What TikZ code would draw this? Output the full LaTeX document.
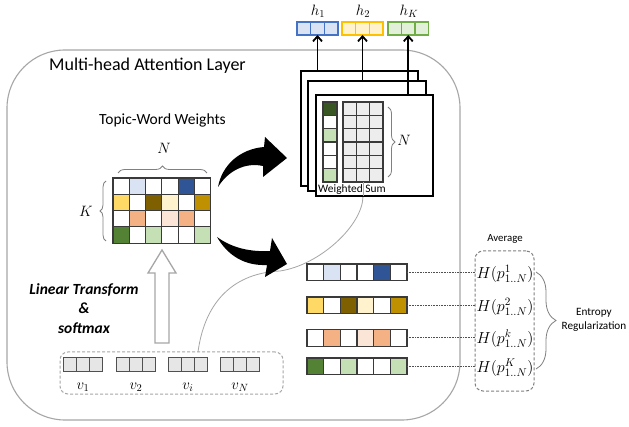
\RequirePackage{fix-cm}
\documentclass[tikz,border=0pt]{standalone}
\usepackage{fontspec}
\setmainfont{Carlito}
\usetikzlibrary{arrows.meta,decorations.pathreplacing,calc}

\definecolor{lb}{HTML}{DAE3F3}
\definecolor{db}{HTML}{2F5597}
\definecolor{yl}{HTML}{FFD966}
\definecolor{brn}{HTML}{7F6000}
\definecolor{cr}{HTML}{FFF2CC}
\definecolor{gd}{HTML}{BF9000}
\definecolor{orng}{HTML}{F4B183}
\definecolor{pc}{HTML}{FBE5D6}
\definecolor{dg}{HTML}{548235}
\definecolor{lg}{HTML}{C5E0B4}
\definecolor{wdg}{HTML}{385723}
\definecolor{gfill}{HTML}{EDEDED}
\definecolor{vfill}{HTML}{E7E6E6}
\definecolor{cellline}{HTML}{3A3A3A}
\definecolor{vline}{HTML}{505050}
\definecolor{frame}{HTML}{A6A6A6}
\definecolor{bracec}{HTML}{808080}
\definecolor{hbb}{HTML}{4472C4}
\definecolor{hyb}{HTML}{FFC000}
\definecolor{hgb}{HTML}{70AD47}
\definecolor{hgf}{HTML}{E2F0D9}

\newcommand\cellrow[6]{%
  \foreach \cc [count=\ii from 0] in {#5}{\draw[#6,fill=\cc] ({#1+\ii*#3},{#2}) rectangle ++(#3,#4);}}

\begin{document}
\begin{tikzpicture}[x=1pt,y=-1pt,
  every node/.style={inner sep=0pt,outer sep=0pt},
  box/.style={anchor=north west,inner sep=0pt,outer sep=0pt},
  cellb/.style={draw=cellline,line width=1.1pt},
  vcell/.style={draw=vline,line width=1pt,fill=vfill},
  wsbox/.style={box,draw=black,fill=white,line width=1.1pt},
  brc/.style={draw=bracec,line width=0.8pt,decorate,decoration={brace,amplitude=#1}},
  uparr/.style={line width=1.8pt,-{Straight Barb[length=5pt,width=9pt]}},
  dotline/.style={draw=vline,line width=0.7pt,dash pattern=on 0.8pt off 0.8pt},
  dbox/.style={box,draw=frame,line width=1pt,dash pattern=on 3pt off 2pt,rounded corners=8pt},
  f18/.style={font=\fontsize{18}{21}\selectfont},
  f15/.style={font=\fontsize{15.5}{19.5}\selectfont},
  f11/.style={font=\fontsize{11.2}{14}\selectfont},
  mth/.style={font=\fontsize{15}{18}\selectfont},
]
\useasboundingbox[fill=white] (0,0) rectangle (629,427);

% outer layer
\node[box,draw=frame,line width=1.1pt,rounded corners=58pt,minimum width=453pt,minimum height=370pt] (layer) at (7,50) {};
\node[f18] (title) at (147.5,66) {Multi-head Attention Layer};

% topic-word matrix
\node[f15] (twtitle) at (162.5,120) {Topic-Word Weights};
\node[box,minimum width=97.8pt,minimum height=65.2pt] (topic) at (113,178) {};
\cellrow{113}{178}{16.3}{16.3}{white,lb,white,white,db,white}{cellb}
\cellrow{113}{194.3}{16.3}{16.3}{yl,white,brn,cr,white,gd}{cellb}
\cellrow{113}{210.6}{16.3}{16.3}{white,orng,white,pc,orng,white}{cellb}
\cellrow{113}{226.9}{16.3}{16.3}{dg,white,lg,white,white,lg}{cellb}
\draw[brc=7pt] (118,173) -- (207,173);
\node[mth] (nlab) at (164,148) {$N$};
\draw[brc=6pt] (106,241) -- (106,181);
\node[mth] (klab) at (86,211) {$K$};

% hollow arrow
\draw[draw=frame,fill=white,line width=1.3pt]
  (155,343) -- (155,273) -- (148,273) -- (162,250) -- (176,273) -- (169,273) -- (169,343) -- cycle;
\node[align=center,font=\fontsize{15.5}{19.5}\selectfont\bfseries\itshape] (lt) at (84,308.5) {Linear Transform\\\&\\softmax};

% input vectors
\node[dbox,minimum width=223pt,minimum height=42pt] (vbox) at (60,352) {};
\foreach \nm/\xx/\lab in {v1/63/v_1,v2/116/v_2,vi/168/v_i,vN/220/v_N}{
  \node[box,minimum width=40pt,minimum height=14pt] (\nm) at (\xx,358) {};
  \cellrow{\xx}{358}{13.33}{14}{vfill,vfill,vfill}{vcell}
  \node[mth] (l\nm) at (\xx+20,387) {$\lab$};
}

% thin gray curve
\node[box,minimum width=40pt,minimum height=80pt] (wgrid) at (343,102) {};
\draw[frame,line width=0.8pt] ([xshift=138pt]vbox.north west)
  .. controls (205,300) and (235,273) .. (280,271)
  .. controls (320,265) and (363,225) .. (363,196);

% weighted-sum stack
\node[wsbox,minimum width=117pt,minimum height=115pt] (ws1) at (301,71) {};
\node[wsbox,minimum width=118pt,minimum height=110pt] (ws2) at (308,81) {};
\node[wsbox,minimum width=117pt,minimum height=101pt] (ws3) at (316,95) {};
\foreach \cc [count=\ii from 0] in {wdg,white,lg,white,white,lg}{
  \draw[cellb,fill=\cc] (323,{102+\ii*13.33}) rectangle ++(14,13.33);}
\foreach \ii in {0,...,5}{\foreach \jj in {0,1,2}{
  \draw[cellb,fill=gfill] ({343+\jj*13.33},{102+\ii*13.33}) rectangle ++(13.33,13.33);}}
\draw[frame,line width=0.8pt] (363,196) -- (wgrid.south);
\draw[brc=7pt] (388,107) -- (388,177);
\node[mth] (nlab2) at (404,140) {$N$};
\node[font=\fontsize{11.4}{13}\selectfont] (wslab) at (352,189.5) {Weighted Sum};

% heads
\node[box,minimum width=41pt,minimum height=13pt] (h1) at (297,22) {};
\cellrow{297}{22}{13.67}{13}{lb,lb,lb}{draw=hbb,line width=1.2pt}
\node[box,minimum width=41pt,minimum height=13pt] (h2) at (342,22) {};
\cellrow{342}{22}{13.67}{13}{cr,cr,cr}{draw=hyb,line width=1.2pt}
\node[box,minimum width=40.5pt,minimum height=13pt] (hK) at (388,22) {};
\cellrow{388}{22}{13.5}{13}{hgf,hgf,hgf}{draw=hgb,line width=1.2pt}
\node[mth] (lh1) at (318,11) {$h_1$};
\node[mth] (lh2) at (363,11) {$h_2$};
\node[mth] (lhK) at (409,11) {$h_K$};
\draw[uparr] (h1.south |- ws1.north) -- (h1.south);
\draw[uparr] (h2.south |- ws2.north) -- (h2.south);
\draw[uparr] (hK.south |- ws3.north) -- (hK.south);

% black curved arrows
\fill[black] (218,187) .. controls (222,165) and (240,149) .. (264,147)
  -- (265,137) -- (287,158) -- (263,177) -- (263,166)
  .. controls (245,162) and (228,171) .. cycle;
\fill[black] (217,237) .. controls (232,248) and (250,252) .. (270,251)
  -- (272,238) -- (287,264) -- (265,277) -- (267,265)
  .. controls (245,266) and (228,256) .. cycle;

% topic distributions per head
\node[box,minimum width=100pt,minimum height=16.6pt] (r1) at (307,264) {};
\cellrow{307}{264}{16.67}{16.6}{white,lb,white,white,db,white}{cellb}
\node[box,minimum width=100pt,minimum height=16.6pt] (r2) at (307,297) {};
\cellrow{307}{297}{16.67}{16.6}{yl,white,brn,cr,white,gd}{cellb}
\node[box,minimum width=100pt,minimum height=16.6pt] (r3) at (307,329.5) {};
\cellrow{307}{329.5}{16.67}{16.6}{white,orng,white,pc,orng,white}{cellb}
\node[box,minimum width=100pt,minimum height=16.6pt] (r4) at (307,358) {};
\cellrow{307}{358}{16.67}{16.6}{dg,white,lg,white,white,lg}{cellb}

% entropy terms
\node[dbox,draw=bracec,minimum width=59pt,minimum height=140pt] (avg) at (475,251) {};
\node[font=\fontsize{10.8}{13}\selectfont] (avglab) at (505,239) {Average};
\node[font=\fontsize{16}{19}\selectfont] (H1) at (505,274) {$H(p^1_{1..N})$};
\node[font=\fontsize{16}{19}\selectfont] (H2) at (505,307) {$H(p^2_{1..N})$};
\node[font=\fontsize{16}{19}\selectfont] (H3) at (505,339) {$H(p^k_{1..N})$};
\node[font=\fontsize{16}{19}\selectfont] (H4) at (505,367.5) {$H(p^K_{1..N})$};
\draw[dotline] (r1.east) -- (r1.east -| avg.west);
\draw[dotline] (r2.east) -- (r2.east -| avg.west);
\draw[dotline] (r3.east) -- (r3.east -| avg.west);
\draw[dotline] (r4.east) -- (r4.east -| avg.west);
\draw[brc=20pt] (536,272) -- (536,369);
\node[f11,align=center] (ent) at (594,320) {Entropy\\Regularization};
\end{tikzpicture}
\end{document}
